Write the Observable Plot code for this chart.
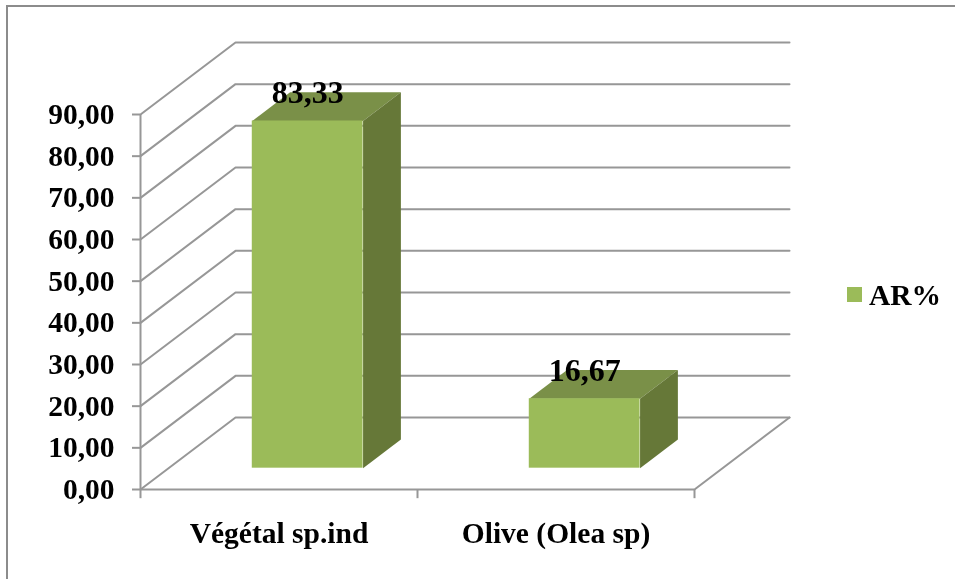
<!DOCTYPE html>
<html>
<head>
<meta charset="utf-8">
<script src="https://cdn.jsdelivr.net/npm/d3@7"></script>
<script src="https://cdn.jsdelivr.net/npm/@observablehq/plot@0.6"></script>
<style>
  html,body{margin:0;padding:0;background:#fff;width:955px;height:579px;overflow:hidden}
  #wrap{position:relative;width:955px;height:579px;font-family:"Liberation Serif",serif;filter:blur(0.35px)}
  #border{position:absolute;left:6px;top:5px;right:0;bottom:0;border-left:2px solid #8c8c8c;border-top:2px solid #8c8c8c}
  #chart{position:absolute;left:0;top:0}
  #legend{position:absolute;left:847px;top:275px;display:flex;align-items:center;height:40px;font-weight:bold;font-size:29.5px;color:#000}
  #legend i{display:block;width:15px;height:15px;background:#9BBB59;margin-right:7px;position:relative;top:-1px}
</style>
</head>
<body>
<div id="wrap">
  <div id="border"></div>
  <div id="chart"></div>
  <div id="legend"><i></i><span id="legendLabel"></span></div>
</div>
<script>
const categories = ["Végétal sp.ind", "Olive (Olea sp)"];
const values = [83.33, 16.67];
const valueLabels = ["83,33", "16,67"];
const seriesName = "AR%";
const yTicks = [0, 10, 20, 30, 40, 50, 60, 70, 80, 90];
const xBoundaries = [0, 1, 2];

// Oblique 3D box geometry, in data units (category widths and value units)
const depthX = 0.343, depthY = 17.28;
const barStart = 0.302, barWidth = 0.40, barDepth0 = 0.296, barDepth1 = 0.694;

const front = (cat, val, d) => ({x: cat + depthX * d, y: val + depthY * d});
const pt = (key, cat, val, d) => ({key, ...front(cat, val, d)});

const bars = categories.map((c, i) => ({c, i, v: values[i], l: i + barStart, r: i + barStart + barWidth}));

const frontFaces = bars.map(b => ({
  x1: front(b.l, 0, barDepth0).x, x2: front(b.r, 0, barDepth0).x,
  y1: front(b.l, 0, barDepth0).y, y2: front(b.l, b.v, barDepth0).y
}));
const sideFaces = bars.flatMap(b => [
  pt(b.c, b.r, 0, barDepth0), pt(b.c, b.r, b.v, barDepth0),
  pt(b.c, b.r, b.v, barDepth1), pt(b.c, b.r, 0, barDepth1)
]);
const topFaces = bars.flatMap(b => [
  pt(b.c, b.l, b.v, barDepth0), pt(b.c, b.r, b.v, barDepth0),
  pt(b.c, b.r, b.v, barDepth1), pt(b.c, b.l, b.v, barDepth1)
]);
const gridLines = yTicks.flatMap(t => [
  pt(t, 0, t, 0), pt(t, 0, t, 1), pt(t, 2, t, 1)
]);
const floorEdge = [pt("e", 2, 0, 0), pt("e", 2, 0, 1)];
const labels = bars.map(b => ({text: valueLabels[b.i], ...front((b.l + b.r) / 2, b.v, barDepth0)}));
const catLabels = categories.map((c, i) => ({c, x: i + 0.5, y: 0}));

const gridColor = "#979797";
const fmt = d => d.toFixed(2).replace(".", ",");

const plot = Plot.plot({
  width: 955, height: 579,
  marginLeft: 140, marginRight: 261, marginTop: 114, marginBottom: 90,
  style: {fontFamily: "Liberation Serif, serif", background: "transparent", overflow: "visible"},
  x: {type: "linear", domain: [0, 2], axis: null},
  y: {type: "linear", domain: [0, 90], axis: null},
  marks: [
    Plot.line(gridLines, {x: "x", y: "y", z: "key", stroke: gridColor, strokeWidth: 2}),
    Plot.line(floorEdge, {x: "x", y: "y", stroke: gridColor, strokeWidth: 2}),
    Plot.ruleX([0], {y1: 0, y2: 90, stroke: gridColor, strokeWidth: 2}),
    Plot.ruleY([0], {x1: 0, x2: 2, stroke: gridColor, strokeWidth: 2}),
    Plot.axisY({
      ticks: yTicks, tickFormat: fmt, label: null, tickSize: 8, tickPadding: 18,
      stroke: gridColor, strokeWidth: 2, fill: "#000", fontSize: 29.5, fontWeight: "bold", textStroke: "none"
    }),
    Plot.ruleX(xBoundaries, {x: d => d, y1: 0, y2: -2.2, stroke: gridColor, strokeWidth: 2}),
    Plot.line(topFaces, {x: "x", y: "y", z: "key", fill: "#7A9048", stroke: "none"}),
    Plot.line(sideFaces, {x: "x", y: "y", z: "key", fill: "#667838", stroke: "none"}),
    Plot.rect(frontFaces, {x1: "x1", x2: "x2", y1: "y1", y2: "y2", fill: "#9BBB59"}),
    Plot.text(labels, {x: "x", y: "y", text: "text", dy: -28, fontSize: 32, fontWeight: "bold", fill: "#000"}),
    Plot.text(catLabels, {x: "x", y: "y", text: "c", dy: 44, fontSize: 29.5, fontWeight: "bold", fill: "#000"})
  ]
});
document.getElementById("chart").appendChild(plot);
document.getElementById("legendLabel").textContent = seriesName;
</script>
</body>
</html>
